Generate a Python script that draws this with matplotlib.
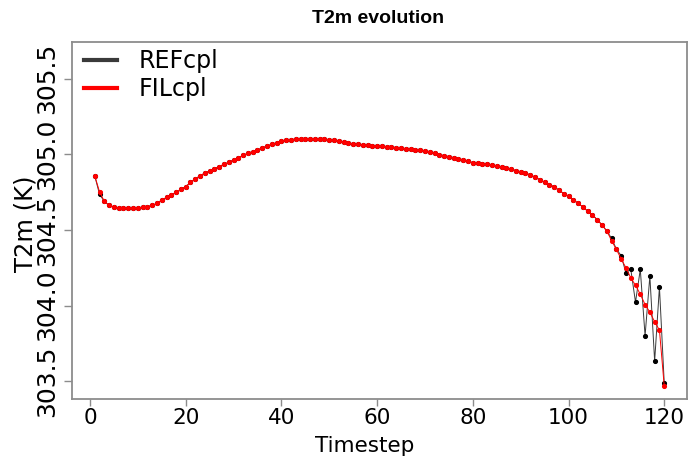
import matplotlib

matplotlib.use("Agg")

import matplotlib.pyplot as plt


timesteps = list(range(1, 121))

# FILcpl (red)
fil_t2m = [
    304.857, 304.752, 304.689, 304.662, 304.649, 304.645, 304.645, 304.645, 304.645, 304.647,
    304.649, 304.654, 304.662, 304.675, 304.697, 304.715, 304.732, 304.748, 304.768, 304.787,
    304.814, 304.838, 304.857, 304.877, 304.890, 304.906, 304.919, 304.934, 304.947, 304.963,
    304.977, 304.993, 305.007, 305.018, 305.029, 305.042, 305.055, 305.066, 305.077, 305.086,
    305.092, 305.097, 305.101, 305.103, 305.103, 305.103, 305.103, 305.101, 305.099, 305.097,
    305.092, 305.086, 305.079, 305.072, 305.068, 305.066, 305.061, 305.059, 305.057, 305.055,
    305.053, 305.050, 305.048, 305.045, 305.042, 305.037, 305.033, 305.028, 305.026, 305.022,
    305.018, 305.007, 304.998, 304.991, 304.985, 304.978, 304.972, 304.963, 304.954, 304.945,
    304.941, 304.939, 304.934, 304.930, 304.923, 304.917, 304.910, 304.901, 304.893, 304.884,
    304.875, 304.864, 304.849, 304.833, 304.814, 304.800, 304.785, 304.763, 304.741, 304.722,
    304.697, 304.678, 304.651, 304.625, 304.599, 304.568, 304.533, 304.493, 304.430, 304.371,
    304.309, 304.250, 304.184, 304.134, 304.075, 304.007, 303.956, 303.893, 303.838, 303.469,
]

# REFcpl (black)
ref_t2m = [
    304.857, 304.735, 304.689, 304.662, 304.649, 304.645, 304.645, 304.645, 304.645, 304.647,
    304.649, 304.654, 304.662, 304.675, 304.697, 304.715, 304.732, 304.748, 304.768, 304.787,
    304.814, 304.838, 304.857, 304.877, 304.890, 304.906, 304.919, 304.934, 304.947, 304.963,
    304.977, 304.993, 305.007, 305.018, 305.029, 305.042, 305.055, 305.066, 305.077, 305.086,
    305.092, 305.097, 305.101, 305.103, 305.103, 305.103, 305.103, 305.101, 305.099, 305.097,
    305.092, 305.086, 305.079, 305.072, 305.068, 305.066, 305.061, 305.059, 305.057, 305.055,
    305.053, 305.050, 305.048, 305.045, 305.042, 305.037, 305.033, 305.028, 305.026, 305.022,
    305.018, 305.007, 304.998, 304.991, 304.985, 304.978, 304.972, 304.963, 304.954, 304.945,
    304.941, 304.939, 304.934, 304.930, 304.923, 304.917, 304.910, 304.901, 304.893, 304.884,
    304.875, 304.864, 304.849, 304.833, 304.814, 304.800, 304.785, 304.763, 304.741, 304.722,
    304.697, 304.678, 304.651, 304.625, 304.599, 304.568, 304.533, 304.493, 304.445, 304.373,
    304.331, 304.215, 304.243, 304.022, 304.239, 303.800, 304.195, 303.632, 304.123, 303.490,
]

x_ticks = [0, 20, 40, 60, 80, 100, 120]
y_ticks = [303.5, 304.0, 304.5, 305.0, 305.5]

FRAME = "#8c8c8c"


def main() -> None:
    fig = plt.figure(figsize=(6.91, 4.57), dpi=100)
    ax = fig.add_axes([0.1042, 0.1269, 0.8900, 0.7812])

    ax.plot(timesteps, ref_t2m, color="#3a3a3a", linewidth=0.7,
            marker="o", markersize=2.7, markerfacecolor="black",
            markeredgecolor="black", label="REFcpl")
    ax.plot(timesteps, fil_t2m, color="red", linewidth=0.7,
            marker="o", markersize=2.7, markerfacecolor="red",
            markeredgecolor="red", label="FILcpl")

    ax.set_xlim(-3.76, 124.76)
    ax.set_ylim(303.382, 305.743)
    ax.set_xticks(x_ticks)
    ax.set_yticks(y_ticks)
    ax.set_yticklabels([f"{v:.1f}" for v in y_ticks], rotation=90, va="center")

    for spine in ax.spines.values():
        spine.set_color(FRAME)
        spine.set_linewidth(1.3)
    ax.tick_params(axis="both", colors=FRAME, labelcolor="black", width=1.0)
    ax.tick_params(axis="x", length=5, pad=1.5, labelsize=15.5)
    ax.tick_params(axis="y", length=6, pad=3, labelsize=18)

    ax.set_xlabel("Timestep", fontsize=15.5, va="bottom")
    ax.xaxis.set_label_coords(0.476, -0.161)
    ax.set_ylabel("T2m (K)", fontsize=17.5, va="center")
    ax.yaxis.set_label_coords(-0.0764, 0.49)

    ax.set_title("T2m evolution", fontsize=14, fontweight="bold",
                 family="Liberation Sans", x=0.498, y=1.0, pad=14)

    leg = ax.legend(loc="upper left", bbox_to_anchor=(0.008, 1.0),
                    frameon=False, fontsize=17,
                    handlelength=1.4, handletextpad=0.9, labelspacing=0.18,
                    borderaxespad=0.1, borderpad=0.2)
    for line in leg.get_lines():
        line.set_linewidth(3)
        line.set_marker("")

    fig.savefig("out.png", dpi=100)
    plt.close(fig)


if __name__ == "__main__":
    main()
